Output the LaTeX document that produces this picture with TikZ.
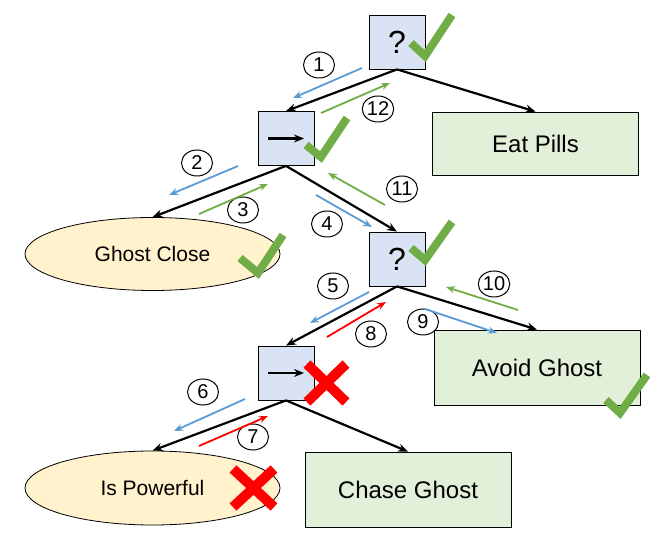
\documentclass[tikz,border=0pt]{standalone}
\usepackage{fontspec}
\setmainfont{Liberation Sans}
\usepackage{xcolor}
\usetikzlibrary{positioning,shapes.geometric,arrows.meta}
\definecolor{ctlfill}{HTML}{DAE3F3}
\definecolor{actfill}{HTML}{E2F0D9}
\definecolor{condfill}{HTML}{FFF2CC}
\definecolor{tickgreen}{HTML}{70AD47}
\definecolor{flowblue}{HTML}{5B9BD5}
\definecolor{flowred}{HTML}{FF0000}

\tikzset{
  ctl/.style={draw, fill=ctlfill, minimum width=28pt, minimum height=27pt, inner sep=0pt, font=\fontsize{16}{16}\selectfont},
  act/.style={draw, fill=actfill, minimum width=103pt, minimum height=37.5pt, inner sep=0pt, font=\fontsize{12}{12}\selectfont},
  cond/.style={draw, ellipse, fill=condfill, minimum width=127.5pt, minimum height=36.5pt, inner sep=0pt, font=\fontsize{10.5}{10.5}\selectfont},
  edge/.style={-{Stealth[length=5pt,width=4pt]}, line width=1.1pt},
  stepnum/.style={draw, ellipse, line width=0.5pt, minimum width=15.5pt, minimum height=13pt, inner sep=0pt, font=\fontsize{10}{10}\selectfont},
  flow/.style={-{Stealth[length=4.5pt,width=3.5pt]}, line width=0.9pt},
  okmark/.style={draw=tickgreen, line width=4pt, miter limit=3},
  failmark/.style={draw=flowred, line width=5pt}
}

\begin{document}
\begin{tikzpicture}[x=0.5pt, y=-0.5pt]
\useasboundingbox (0,0) rectangle (664,555);

% tree nodes
\node[ctl] (root) at (397,42) {?};
\node[ctl] (seq1) at (286,138.5) {};
\node[act, minimum height=31.5pt] (eat) at (535.5,143.5) {Eat Pills};
\node[cond] (close) at (152.5,254) {Ghost Close};
\node[ctl] (sel) at (397,259) {?};
\node[act] (avoid) at (537,367.5) {Avoid Ghost};
\node[ctl] (seq2) at (286,373) {};
\node[cond, minimum height=37pt] (power) at (152.5,488) {Is Powerful};
\node[act] (chase) at (408,489.5) {Chase Ghost};

% sequence arrows
\draw[edge] ([xshift=-9pt]seq1.center) -- ([xshift=9pt]seq1.center);
\draw[edge] ([xshift=-9pt]seq2.center) -- ([xshift=9pt]seq2.center);

% tree edges
\draw[edge] (root.south) -- (seq1.north);
\draw[edge] (root.south) -- (eat.north);
\draw[edge] (seq1.south) -- (close.north);
\draw[edge] (seq1.south) -- (sel.north);
\draw[edge] (sel.south) -- (seq2.north);
\draw[edge] (sel.south) -- (avoid.north);
\draw[edge] (seq2.south) -- (power.north);
\draw[edge] (seq2.south) -- (chase.north);

% step numbers
\node[stepnum] (n1) at (319,65) {1};
\node[stepnum] (n2) at (197,163) {2};
\node[stepnum] (n3) at (243,210) {3};
\node[stepnum] (n4) at (327,224) {4};
\node[stepnum] (n5) at (333,286) {5};
\node[stepnum] (n6) at (203,392) {6};
\node[stepnum] (n7) at (253,437) {7};
\node[stepnum] (n8) at (371,334) {8};
\node[stepnum] (n9) at (423,322) {9};
\node[stepnum] (n10) at (494,284) {10};
\node[stepnum] (n11) at (402,189) {11};
\node[stepnum] (n12) at (378,109) {12};

% flow arrows
\coordinate (f1a) at (362,68);  \coordinate (f1b) at (293,98);
\coordinate (f2a) at (238,166); \coordinate (f2b) at (169,195);
\coordinate (f3a) at (199,214); \coordinate (f3b) at (268,184);
\coordinate (f4a) at (316,195); \coordinate (f4b) at (372,227);
\coordinate (f5a) at (369,292); \coordinate (f5b) at (310,323);
\coordinate (f6a) at (245,399); \coordinate (f6b) at (174,431);
\coordinate (f7a) at (199,446); \coordinate (f7b) at (268,416);
\coordinate (f8a) at (327,337); \coordinate (f8b) at (386,302);
\coordinate (f9a) at (425,309); \coordinate (f9b) at (497,333);
\coordinate (f10a) at (518,310); \coordinate (f10b) at (446,287);
\coordinate (f11a) at (385,205); \coordinate (f11b) at (328,173);
\coordinate (f12a) at (321,113); \coordinate (f12b) at (390,83);
\draw[flow, flowblue] (f1a) -- (f1b);
\draw[flow, flowblue] (f2a) -- (f2b);
\draw[flow, tickgreen] (f3a) -- (f3b);
\draw[flow, flowblue] (f4a) -- (f4b);
\draw[flow, flowblue] (f5a) -- (f5b);
\draw[flow, flowblue] (f6a) -- (f6b);
\draw[flow, flowred] (f7a) -- (f7b);
\draw[flow, flowred] (f8a) -- (f8b);
\draw[flow, flowblue] (f9a) -- (f9b);
\draw[flow, tickgreen] (f10a) -- (f10b);
\draw[flow, tickgreen] (f11a) -- (f11b);
\draw[flow, tickgreen] (f12a) -- (f12b);

% results
\draw[okmark] (411,43) -- (425,56) -- (452,15);
\draw[okmark] (306,145) -- (321,157) -- (347,118);
\draw[okmark] (240,258) -- (258,273) -- (283,235);
\draw[okmark] (411,248) -- (425,260) -- (452,222);
\draw[okmark] (606,400) -- (620,413) -- (647,375);
\draw[failmark] (307,364) -- (346,402) (307,402) -- (346,364);
\draw[failmark] (233,469) -- (274,507) (233,507) -- (274,469);

\end{tikzpicture}
\end{document}
